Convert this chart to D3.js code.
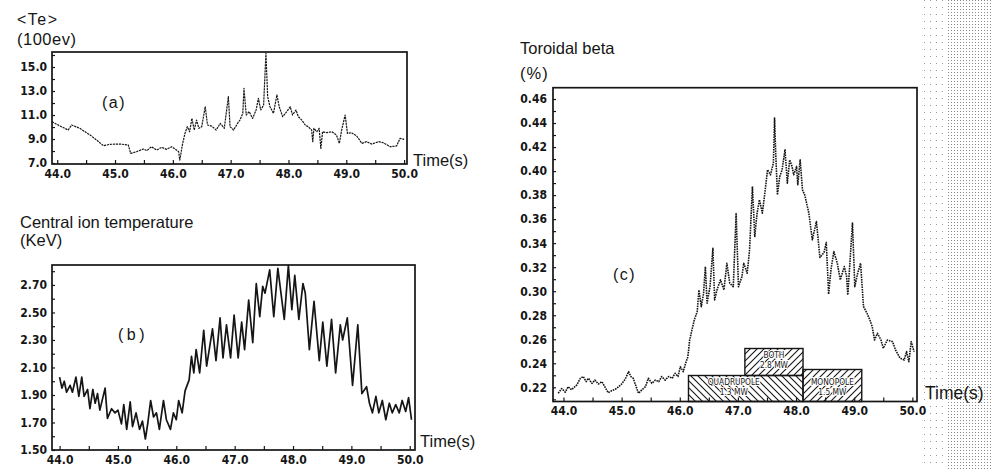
<!DOCTYPE html>
<html>
<head>
<meta charset="utf-8">
<script src="https://cdn.jsdelivr.net/npm/d3@7"></script>
<style>
  body { margin: 0; background: #fff; }
  svg { display: block; }
  .tick text { font-family: "DejaVu Sans Condensed", "DejaVu Sans", sans-serif; font-weight: bold; font-size: 12px; fill: #151515; }
  .lbl { font-family: "Liberation Sans", Arial, sans-serif; fill: #151515; }
  .box text { font-family: "DejaVu Sans Condensed", "DejaVu Sans", sans-serif; font-size: 8.3px; fill: #151515; }
</style>
</head>
<body>
<svg width="991" height="469"></svg>
<script>
var svg = d3.select('svg');

// shared time axis
var timeTicks = [44, 45, 46, 47, 48, 49, 50];

// (a) <Te>, 100 eV
var teTicks = [7, 9, 11, 13, 15];
var teTime = [43.91,44.05,44.19,44.25,44.39,44.57,44.68,44.8,44.91,45.09,45.23,45.27,45.37,45.49,45.55,45.63,45.72,45.81,45.89,45.98,
  46.04,46.1,46.12,46.17,46.21,46.25,46.29,46.33,46.37,46.41,46.45,46.5,46.56,46.6,46.67,46.75,46.82,46.89,46.96,46.99,
  47.05,47.12,47.16,47.21,47.23,47.27,47.32,47.38,47.44,47.48,47.52,47.57,47.61,47.64,47.68,47.74,47.8,47.84,47.9,47.97,
  48.03,48.07,48.13,48.17,48.23,48.29,48.34,48.4,48.42,48.44,48.49,48.53,48.56,48.59,48.66,48.75,48.83,48.88,48.92,48.98,
  49.02,49.09,49.18,49.27,49.35,49.44,49.56,49.64,49.76,49.87,49.93,50.0];
var teValue = [10.44,10.08,9.75,10.17,9.89,9.33,8.92,8.44,8.56,8.58,8.5,7.81,7.94,8.17,8.03,8.36,8.08,8.31,8.14,8.36,
  8.17,7.94,7.25,8.64,9.47,10.03,9.61,10.72,9.75,10.58,9.89,10.03,11.69,10.17,10.08,9.75,10.31,9.89,12.53,10.03,
  9.75,10.31,10.58,11.14,13.22,11.0,11.28,10.72,11.42,12.39,11.42,11.83,16.14,12.53,11.69,11.14,12.67,11.69,10.86,11.28,
  11.69,11.0,11.42,10.86,10.58,10.17,10.03,9.75,8.78,9.89,9.61,9.89,8.22,9.61,9.53,9.61,9.33,8.64,9.75,11.0,
  9.47,9.53,9.25,8.64,8.78,8.58,8.78,8.69,8.36,8.42,9.06,8.97];

// (b) central ion temperature, keV
var tiTicks = [1.5, 1.7, 1.9, 2.1, 2.3, 2.5, 2.7];
var tiTime = [44.0,44.04,44.08,44.12,44.18,44.22,44.28,44.33,44.38,44.42,44.48,44.52,44.57,44.61,44.65,44.69,44.78,44.82,44.89,44.95,
  45.0,45.06,45.1,45.15,45.21,45.25,45.31,45.37,45.42,45.47,45.51,45.56,45.61,45.66,45.71,45.78,45.83,45.9,45.95,46.0,
  46.04,46.1,46.15,46.22,46.26,46.3,46.34,46.4,46.47,46.52,46.62,46.68,46.75,46.8,46.86,46.93,46.99,47.06,47.12,47.17,
  47.24,47.31,47.37,47.43,47.48,47.52,47.6,47.67,47.74,47.85,47.92,47.98,48.03,48.1,48.17,48.21,48.28,48.36,48.45,48.51,
  48.58,48.66,48.73,48.81,48.85,48.93,49.02,49.11,49.18,49.26,49.31,49.36,49.42,49.47,49.53,49.59,49.65,49.7,49.76,49.82,
  49.87,49.93,49.98,50.03];
var tiValue = [2.03,1.95,2.0,1.92,1.97,1.92,2.03,1.89,2.03,1.89,1.94,1.8,1.94,1.84,1.91,1.79,1.95,1.73,1.8,1.77,
  1.79,1.69,1.83,1.65,1.85,1.67,1.77,1.65,1.71,1.58,1.69,1.86,1.74,1.77,1.65,1.86,1.72,1.65,1.77,1.72,
  1.86,1.77,1.93,2.01,2.18,2.06,2.23,2.06,2.37,2.11,2.38,2.15,2.46,2.17,2.41,2.17,2.48,2.17,2.43,2.23,
  2.59,2.28,2.71,2.47,2.69,2.64,2.81,2.47,2.82,2.45,2.84,2.52,2.77,2.45,2.71,2.64,2.23,2.58,2.15,2.43,
  2.11,2.45,2.06,2.41,2.3,2.46,1.97,2.41,1.91,1.96,1.84,1.77,1.89,1.77,1.86,1.72,1.84,1.77,1.83,1.77,
  1.86,1.78,1.88,1.72];

// (c) toroidal beta, %
var betaTicks = [0.22, 0.24, 0.26, 0.28, 0.30, 0.32, 0.34, 0.36, 0.38, 0.40, 0.42, 0.44, 0.46];
var betaTime = [43.91,43.97,44.03,44.08,44.14,44.23,44.29,44.34,44.39,44.43,44.49,44.54,44.6,44.66,44.71,44.77,44.83,44.89,44.95,45.0,
  45.06,45.12,45.16,45.2,45.25,45.29,45.35,45.41,45.46,45.52,45.58,45.64,45.69,45.75,45.81,45.87,45.92,45.97,46.01,46.06,
  46.1,46.14,46.17,46.21,46.25,46.3,46.33,46.37,46.41,46.44,46.47,46.52,46.57,46.6,46.64,46.7,46.76,46.81,46.86,46.92,
  46.97,47.01,47.07,47.1,47.16,47.2,47.25,47.29,47.33,47.37,47.42,47.47,47.51,47.56,47.61,47.63,47.65,47.68,47.72,47.76,
  47.81,47.85,47.89,47.93,47.96,48.01,48.03,48.07,48.11,48.15,48.22,48.28,48.35,48.41,48.48,48.52,48.56,48.6,48.65,48.71,
  48.76,48.83,48.87,48.89,48.93,48.97,49.01,49.06,49.11,49.16,49.22,49.27,49.31,49.35,49.4,49.46,49.5,49.57,49.66,49.71,
  49.79,49.86,49.9,49.94,49.98,50.03];
var betaValue = [0.215,0.219,0.216,0.2205,0.218,0.222,0.2275,0.229,0.2247,0.2275,0.2233,0.226,0.2228,0.2247,0.2205,0.2155,0.2172,0.2183,0.2205,0.2228,
  0.2267,0.233,0.229,0.2275,0.2205,0.215,0.218,0.2205,0.2275,0.2233,0.226,0.2247,0.229,0.226,0.229,0.2275,0.2317,0.229,0.2372,0.233,
  0.24,0.2455,0.2594,0.2678,0.2761,0.283,0.301,0.2872,0.2983,0.3205,0.29,0.3038,0.3358,0.2928,0.3011,0.3094,0.3011,0.3233,0.3067,0.3038,
  0.365,0.3038,0.3122,0.3233,0.315,0.3344,0.3872,0.3455,0.365,0.3761,0.365,0.3844,0.4011,0.3969,0.4067,0.4442,0.4142,0.3803,0.3955,0.4011,
  0.4178,0.39,0.4094,0.4039,0.3969,0.4039,0.3886,0.4094,0.3844,0.38,0.365,0.3428,0.358,0.3281,0.3322,0.3406,0.2975,0.3178,0.333,0.3233,
  0.3094,0.3205,0.3122,0.2969,0.3261,0.3567,0.3038,0.315,0.3233,0.2872,0.2817,0.2761,0.2705,0.2594,0.265,0.2594,0.2525,0.2594,0.258,0.2511,
  0.2442,0.2428,0.2497,0.2414,0.258,0.2497];

// heating periods shown in (c)
var heatName = ['QUADRUPOLE', 'BOTH', 'MONOPOLE'];
var heatPower = ['1.3 MW', '2.8 MW', '1.5 MW'];
var heatStart = [46.15, 47.12, 48.12];
var heatEnd = [48.12, 48.12, 49.13];

// ---------- defs ----------
var defs = svg.append('defs');
defs.append('pattern').attr('id', 'hatchBack').attr('patternUnits', 'userSpaceOnUse')
    .attr('width', 7).attr('height', 7)
  .append('path').attr('d', 'M0,0L7,7M-1,6L1,8M6,-1L8,1')
    .attr('stroke', '#151515').attr('stroke-width', 1.1);
defs.append('pattern').attr('id', 'hatchFwd').attr('patternUnits', 'userSpaceOnUse')
    .attr('width', 7).attr('height', 7)
  .append('path').attr('d', 'M0,7L7,0M-1,1L1,-1M6,8L8,6')
    .attr('stroke', '#151515').attr('stroke-width', 1.1);
defs.append('pattern').attr('id', 'dots').attr('patternUnits', 'userSpaceOnUse')
    .attr('width', 3).attr('height', 3)
  .append('rect').attr('width', 1).attr('height', 1).attr('fill', '#8a8a8a');
defs.append('pattern').attr('id', 'dotsSparse').attr('patternUnits', 'userSpaceOnUse')
    .attr('width', 6).attr('height', 7)
  .append('rect').attr('width', 1).attr('height', 1).attr('fill', '#9a9a9a');

// paper edge halftone on the right
svg.append('rect').attr('x', 924).attr('y', 0).attr('width', 22).attr('height', 469).attr('fill', 'url(#dotsSparse)');
svg.append('rect').attr('x', 946).attr('y', 0).attr('width', 45).attr('height', 469).attr('fill', 'url(#dots)');

// ---------- helpers ----------
function drawPanel(x, y, yTicks, yFmt, yMinor, yPad) {
  var g = svg.append('g');
  var x0 = x.range()[0], x1 = x.range()[1];
  var yb = y.range()[0], yt = y.range()[1];

  // minor ticks, inward
  g.append('g').attr('transform', 'translate(' + x0 + ',0)')
      .call(d3.axisLeft(y).tickValues(yMinor).tickSize(-3).tickFormat(''))
      .call(function (s) { s.select('.domain').remove(); });
  g.append('g').attr('transform', 'translate(0,' + yb + ')')
      .call(d3.axisBottom(x).tickValues(d3.range(44, 50.01, 0.5)).tickSize(-4).tickFormat(''))
      .call(function (s) { s.select('.domain').remove(); });
  g.selectAll('.tick line').attr('stroke', '#151515').attr('stroke-width', 1.2);

  // labels
  g.append('g').attr('transform', 'translate(' + x0 + ',0)')
      .call(d3.axisLeft(y).tickValues(yTicks).tickSize(0).tickPadding(yPad).tickFormat(d3.format(yFmt)))
      .call(function (s) { s.select('.domain').remove(); });
  g.append('g').attr('transform', 'translate(0,' + yb + ')')
      .call(d3.axisBottom(x).tickValues(timeTicks).tickSize(0).tickPadding(5).tickFormat(d3.format('.1f')))
      .call(function (s) { s.select('.domain').remove(); });

  // frame
  g.append('rect')
      .attr('x', x0).attr('y', yt)
      .attr('width', x1 - x0).attr('height', yb - yt)
      .attr('fill', 'none').attr('stroke', '#151515').attr('stroke-width', 1.7);
  return g;
}

function drawTrace(g, x, y, times, values, width, dash) {
  var pts = d3.zip(times, values);
  var line = d3.line().x(function (d) { return x(d[0]); }).y(function (d) { return y(d[1]); });
  g.append('path').datum(pts)
      .attr('d', line)
      .attr('fill', 'none')
      .attr('stroke', '#151515')
      .attr('stroke-width', width)
      .attr('stroke-linejoin', 'round')
      .attr('stroke-dasharray', dash);
}

function label(txt, px, py, size, spacing) {
  svg.append('text').attr('class', 'lbl')
      .attr('x', px).attr('y', py)
      .attr('font-size', size)
      .attr('letter-spacing', spacing || 0)
      .text(txt);
}

// ---------- (a) ----------
var xa = d3.scaleLinear().domain([43.91, 50.05]).range([52, 407]);
var ya = d3.scaleLinear().domain([6.92, 16.25]).range([164, 52]);
var ga = drawPanel(xa, ya, teTicks, '.1f', d3.range(7, 16.1, 1), 5);
drawTrace(ga, xa, ya, teTime, teValue, 1.2, '2.2,0.8');
label('<Te>', 17, 25, 16, 1.5);
label('(100ev)', 17, 45, 16.5, 0.5);
label('(a)', 102, 108, 16, 1.5);
label('Time(s)', 413, 166, 16.5);

// ---------- (b) ----------
var xb = d3.scaleLinear().domain([43.87, 50.09]).range([52, 415]);
var yb = d3.scaleLinear().domain([1.5, 2.845]).range([450, 265]);
var gb = drawPanel(xb, yb, tiTicks, '.2f', d3.range(1.5, 2.81, 0.1), 5);
drawTrace(gb, xb, yb, tiTime, tiValue, 1.7, null);
label('Central ion temperature', 20, 228, 16.5);
label('(KeV)', 20, 246, 16.5);
label('(b)', 118, 340, 16, 3.5);
label('Time(s)', 420, 447, 16.5);

// ---------- (c) ----------
var xc = d3.scaleLinear().domain([43.82, 50.08]).range([553, 917]);
var yc = d3.scaleLinear().domain([0.2082, 0.4694]).range([401.5, 87.7]);
var gc = drawPanel(xc, yc, betaTicks, '.2f', d3.range(0.21, 0.465, 0.01), 6);

// heating boxes: [bottom offset, top offset] in px above the axis
var boxLevels = [[0, 26], [26, 53], [0, 32]];
var boxFill = ['url(#hatchBack)', 'url(#hatchFwd)', 'url(#hatchFwd)'];
var base = yc.range()[0];
var boxes = gc.append('g').attr('class', 'box');
heatName.forEach(function (name, i) {
  var bx0 = xc(heatStart[i]), bx1 = xc(heatEnd[i]);
  var bTop = base - boxLevels[i][1], bBot = base - boxLevels[i][0];
  boxes.append('rect')
      .attr('x', bx0).attr('y', bTop)
      .attr('width', bx1 - bx0).attr('height', bBot - bTop)
      .attr('fill', boxFill[i])
      .attr('stroke', '#151515').attr('stroke-width', 1.4);
  var cx = i === 0 ? (bx0 + bx1) / 2 - 12 : (bx0 + bx1) / 2;
  var ty = i === 2 ? bTop + 15 : bTop + 9.5;
  [name, heatPower[i]].forEach(function (t, k) {
    boxes.append('text')
        .attr('x', cx).attr('y', ty + k * 10)
        .attr('text-anchor', 'middle')
        .attr('stroke', '#fff').attr('stroke-width', 2)
        .attr('paint-order', 'stroke')
        .text(t);
  });
});

drawTrace(gc, xc, yc, betaTime, betaValue, 1.6, '1.6,0.9');
label('Toroidal beta', 520, 54, 16.5);
label('(%)', 520, 79, 16.5, 1);
label('(c)', 613, 280, 16, 1.5);
label('Time(s)', 925, 399, 17.5);
</script>
</body>
</html>
